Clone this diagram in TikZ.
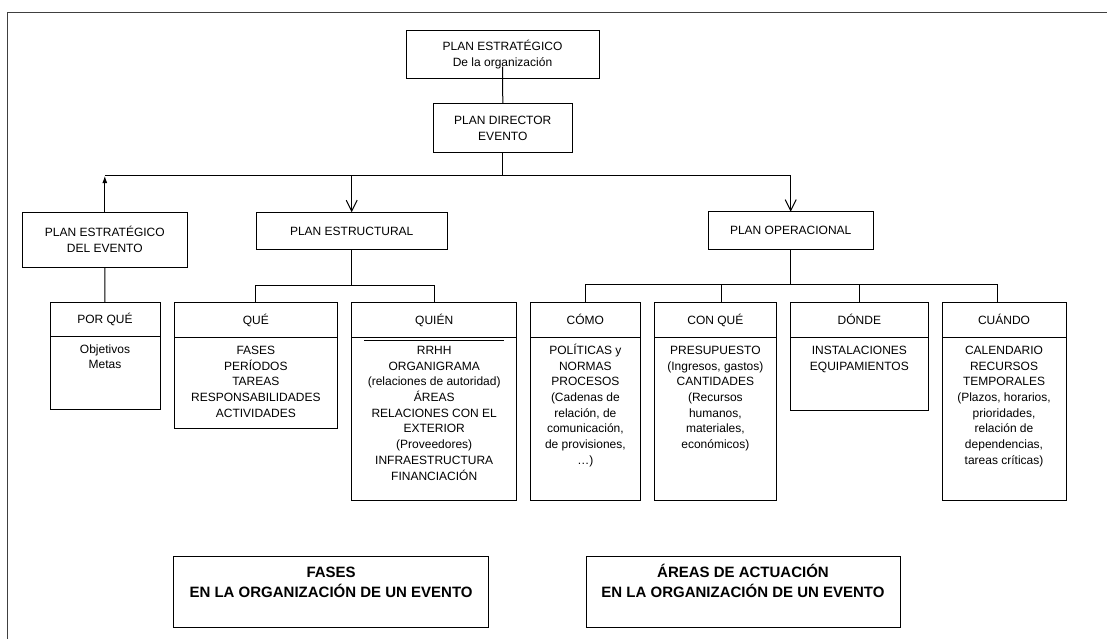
\documentclass[tikz,border=0pt]{standalone}
\usepackage{fontspec}
\setmainfont{Liberation Sans}
\usetikzlibrary{arrows.meta}

% one column: header cell on top of a body cell, text set below the header
\newcommand\colunit[7]{% name, centre x, width, header height, body height, header, body
  \node[box, hdr, minimum width=#3pt, minimum height=#4pt, anchor=north] (#1-h) at (#2,302.7) {#6};
  \node[box, minimum width=#3pt, minimum height=#5pt, anchor=north] (#1-b) at (#1-h.south) {};
  \node[bodytext, anchor=north] (#1-t) at ([yshift=-6pt]#1-b.north) {\strut #7};
}

\begin{document}
\begin{tikzpicture}[x=1pt,y=-1pt,
  box/.style={draw, line width=1pt, inner sep=0pt, outer sep=0pt, align=center,
    font=\fontsize{12}{16}\selectfont},
  hdr/.style={text height=8.6pt, text depth=0pt},
  bodytext/.style={inner sep=0pt, align=center, font=\fontsize{12}{15.7}\selectfont},
  titletext/.style={inner sep=0pt, align=center, font=\fontsize{15}{20}\selectfont\bfseries},
  link/.style={line width=1pt},
  opentip/.style={link, -{Straight Barb[length=11pt,width=11pt,line width=1pt]}},
  filledtip/.style={link, -{Latex[length=7pt,width=5pt]}},
]
\useasboundingbox (0,0) rectangle (1107,639);
\clip (0,0) rectangle (1107,639);

% outer frame
\draw[line width=1.4pt, black!75] (7.3,660) -- (7.3,12.7) -- (1120,12.7);

% top of the hierarchy
\node[box, minimum width=193pt, minimum height=47.6pt] (tope) at (502.5,54.5)
  {PLAN ESTRATÉGICO\\De la organización};
\node[box, minimum width=138.4pt, minimum height=49.4pt] (director) at (502.8,128)
  {PLAN DIRECTOR\\EVENTO};
\draw[link] ([yshift=11.6pt]tope.south) -- (director.north);

% three plans
\node[box, minimum width=165pt, minimum height=55pt] (estev) at (104.8,239.8)
  {PLAN ESTRATÉGICO\\DEL EVENTO};
\node[box, hdr, minimum width=191.4pt, minimum height=37pt] (estruct) at (351.7,230.8)
  {PLAN ESTRUCTURAL};
\node[box, hdr, minimum width=164.7pt, minimum height=37.6pt] (operac) at (790.7,230.5)
  {PLAN OPERACIONAL};

\coordinate (bar) at (0,176);
\draw[link] (director.south) -- (director.south |- bar);
\draw[link] (estev.north |- bar) -- (operac.north |- bar);
\draw[filledtip] (estev.north) -- (estev.north |- bar);
\draw[opentip] (estruct.north |- bar) -- (estruct.north);
\draw[opentip] (operac.north |- bar) -- (operac.north);

% columns
\colunit{pq}{105}{110}{33.3}{73.3}{POR QUÉ}{Objetivos\\Metas}
\colunit{que}{255.85}{163.7}{34.6}{91}{QUÉ}
  {FASES\\PERÍODOS\\TAREAS\\RESPONSABILIDADES\\ACTIVIDADES}
\colunit{quien}{434.2}{165}{34.6}{162.7}{QUIÉN}
  {RRHH\\ORGANIGRAMA\\(relaciones de autoridad)\\ÁREAS\\RELACIONES CON EL\\EXTERIOR\\(Proveedores)\\INFRAESTRUCTURA\\FINANCIACIÓN}
\colunit{como}{585.35}{110.7}{34.6}{162.7}{CÓMO}
  {POLÍTICAS y\\NORMAS\\PROCESOS\\(Cadenas de\\relación, de\\comunicación,\\de provisiones,\\…)}
\colunit{conque}{715.35}{122.7}{34.6}{162.7}{CON QUÉ}
  {PRESUPUESTO\\(Ingresos, gastos)\\CANTIDADES\\(Recursos\\humanos,\\materiales,\\económicos)}
\colunit{donde}{859.35}{137.3}{34.6}{72.7}{DÓNDE}
  {INSTALACIONES\\EQUIPAMIENTOS}
\colunit{cuando}{1004}{124}{34.6}{162.7}{CUÁNDO}
  {CALENDARIO\\RECURSOS\\TEMPORALES\\(Plazos, horarios,\\prioridades,\\relación de\\dependencias,\\tareas críticas)}

% rule under the QUIÉN header
\draw[line width=1.3pt] ([xshift=12.3pt,yshift=-3.4pt]quien-b.north west) -- ([xshift=-12.7pt,yshift=-3.4pt]quien-b.north east);

% left branch
\draw[link] (estev.south) -- (pq-h.north);

% structural branch
\coordinate (eb) at (0,285);
\draw[link] (estruct.south) -- (estruct.south |- eb);
\draw[link] (que-h.north) -- (que-h.north |- eb) -- (quien-h.north |- eb) -- (quien-h.north);

% operational branch
\coordinate (ob) at (0,284);
\draw[link] (operac.south) -- (operac.south |- ob);
\draw[link] (como-h.north) -- (como-h.north |- ob) -- ([xshift=-7pt]cuando-h.north |- ob) -- ([xshift=-7pt]cuando-h.north);
\draw[link] ([xshift=6.3pt]conque-h.north |- ob) -- ([xshift=6.3pt]conque-h.north);
\draw[link] (donde-h.north |- ob) -- (donde-h.north);

% captions
\node[box, minimum width=314.8pt, minimum height=71.7pt] (fases) at (331.1,591.85) {};
\node[titletext, anchor=north] (fases-t) at ([yshift=-7pt]fases.north)
  {\strut FASES\\EN LA ORGANIZACIÓN DE UN EVENTO};
\node[box, minimum width=314pt, minimum height=71.7pt] (areas) at (743,591.85) {};
\node[titletext, anchor=north] (areas-t) at ([yshift=-7pt]areas.north)
  {\strut ÁREAS DE ACTUACIÓN\\EN LA ORGANIZACIÓN DE UN EVENTO};
\end{tikzpicture}
\end{document}
